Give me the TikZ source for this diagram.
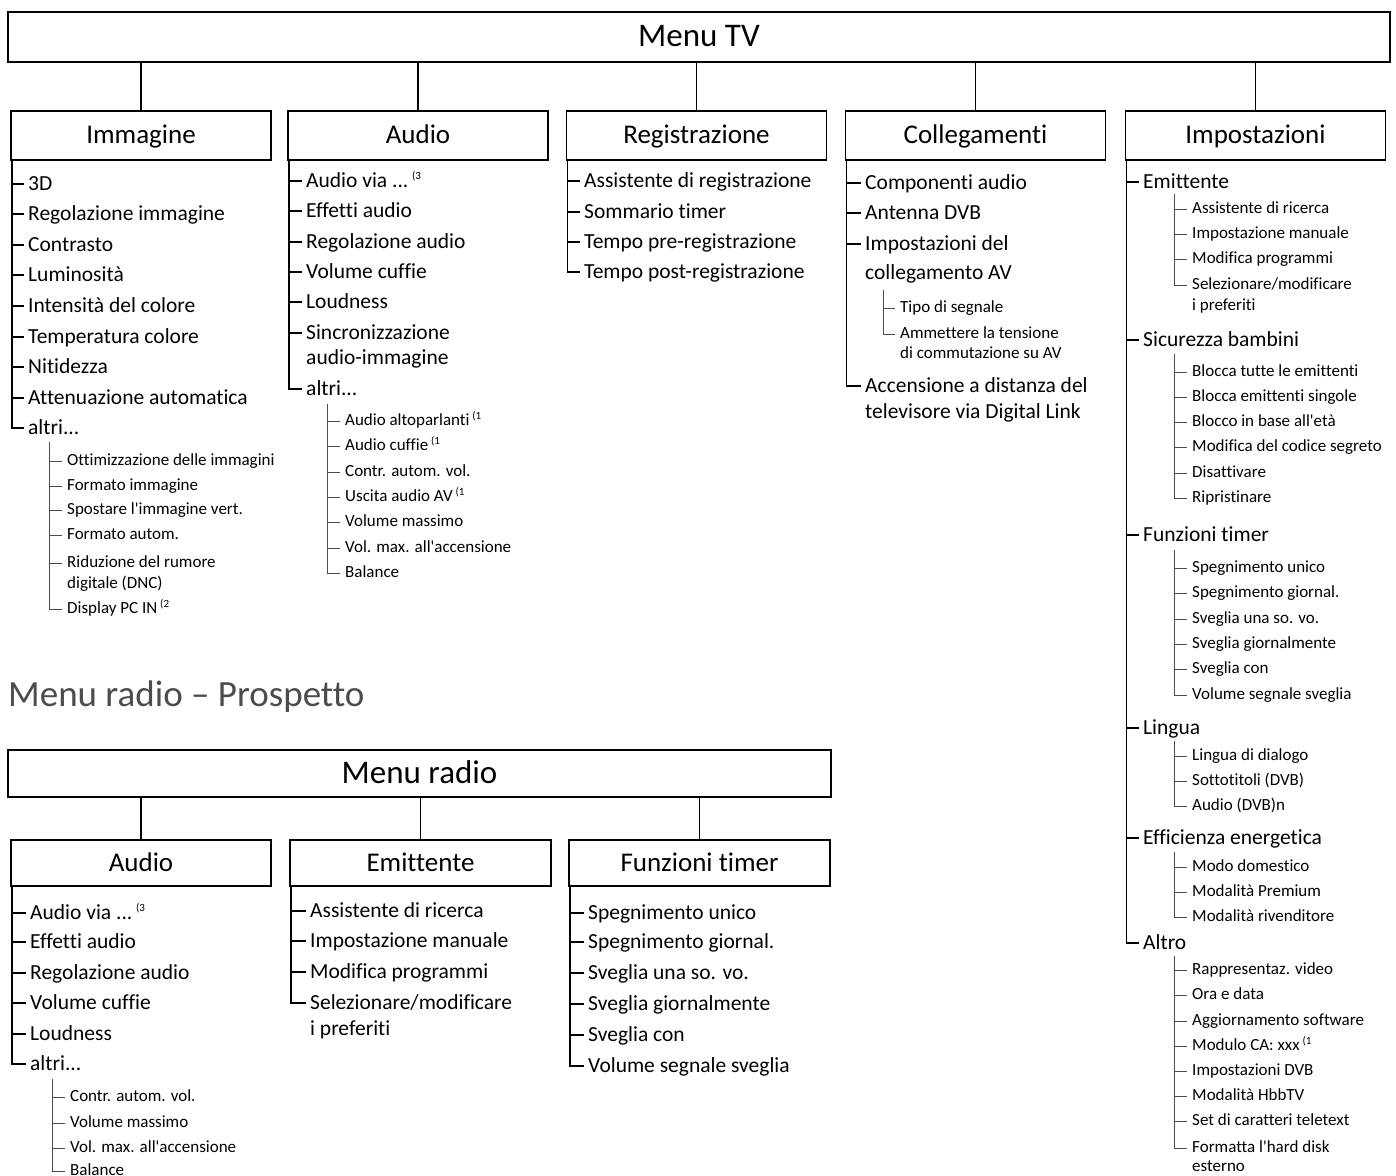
\documentclass[tikz,border=0pt]{standalone}
\usepackage{fontspec}
\setmainfont{Carlito}[Ligatures=NoCommon]
\newcommand\q{\textquotesingle}
\newcommand\tk[2]{\draw[trk] (#1 |- #2.west) -- ([xshift=-4pt]#2.west);}
\newcommand\lt[2]{\draw[trk] (#1) |- ([xshift=-4pt]#2.west);}
\newcommand\stk[2]{\draw[strk] (#1 |- #2.west) -- ([xshift=-5pt]#2.west);}
\newcommand\slt[2]{\draw[strk] (#1) |- ([xshift=-5pt]#2.west);}
\newcommand\fn[1]{\,\textsuperscript{\fontsize{11}{11}\selectfont(#1}}
\begin{document}
\begin{tikzpicture}[x=1pt,y=-1pt,
  mbox/.style={draw, line width=2pt, inner sep=0pt, text height=26pt, text depth=7pt, font=\fontsize{33}{36}\selectfont},
  cbox/.style={draw, line width=1.8pt, inner sep=0pt, minimum width=260pt, minimum height=49pt, text height=22pt, text depth=6pt, font=\fontsize{27}{30}\selectfont},
  itm/.style={anchor=west, inner sep=0pt, text height=12pt, text depth=0pt, font=\fontsize{21.5}{24}\selectfont},
  sit/.style={anchor=west, inner sep=0pt, text height=9pt, text depth=0pt, font=\fontsize{17}{20}\selectfont},
  trk/.style={line width=1.5pt},
  strk/.style={line width=1pt, draw=black!70},
  conn/.style={line width=1.8pt}]
\useasboundingbox (0,0) rectangle (1396,1175);
\fill[white] (0,0) rectangle (1396,1175);

% ===== Menu TV =====
\node[mbox, minimum width=1382pt, minimum height=50pt] (tv) at (699,37) {Menu TV};
\node[cbox] (bImm) at (141,135.5) {Immagine};
\node[cbox] (bAud) at (418,135.5) {Audio};
\node[cbox] (bReg) at (696.5,135.5) {Registrazione};
\node[cbox] (bCol) at (975.5,135.5) {Collegamenti};
\node[cbox] (bImp) at (1255.5,135.5) {Impostazioni};
\foreach \b in {bImm,bAud,bReg,bCol,bImp} \draw[conn] (tv.south -| \b.north) -- (\b.north);

% --- Immagine ---
\coordinate (tImm) at ([xshift=2pt]bImm.south west);
\node[itm] (im1) at (28,184) {3D};
\node[itm] (im2) at (28,214) {Regolazione immagine};
\node[itm] (im3) at (28,245) {Contrasto};
\node[itm] (im4) at (28,275) {Luminosità};
\node[itm] (im5) at (28,306) {Intensità del colore};
\node[itm] (im6) at (28,337) {Temperatura colore};
\node[itm] (im7) at (28,367) {Nitidezza};
\node[itm] (im8) at (28,398) {Attenuazione automatica};
\node[itm] (im9) at (28,428) {altri...};
\foreach \i in {1,...,8} {\tk{tImm}{im\i}}
\lt{tImm}{im9}
\coordinate (sImm) at (49,442);
\node[sit] (ims1) at (67,461) {Ottimizzazione delle immagini};
\node[sit] (ims2) at (67,486) {Formato immagine};
\node[sit] (ims3) at (67,510) {Spostare l\q immagine vert.};
\node[sit] (ims4) at (67,535) {Formato autom.};
\node[sit] (ims5) at (67,563) {Riduzione del rumore};
\node[sit] (ims5b) at (67,584) {digitale (DNC)};
\node[sit] (ims6) at (67,609) {Display PC IN\fn{2}};
\foreach \i in {1,...,5} {\stk{sImm}{ims\i}}
\slt{sImm}{ims6}

% --- Audio ---
\coordinate (tAud) at ([xshift=2pt]bAud.south west);
\node[itm] (au1) at (306,181) {Audio via ...\fn{3}};
\node[itm] (au2) at (306,211) {Effetti audio};
\node[itm] (au3) at (306,242) {Regolazione audio};
\node[itm] (au4) at (306,272) {Volume cuffie};
\node[itm] (au5) at (306,302) {Loudness};
\node[itm] (au6) at (306,333) {Sincronizzazione};
\node[itm] (au6b) at (306,358) {audio-immagine};
\node[itm] (au7) at (306,389) {altri...};
\foreach \i in {1,...,6} {\tk{tAud}{au\i}}
\lt{tAud}{au7}
\coordinate (sAud) at (327,404);
\node[sit] (aus1) at (345,421) {Audio altoparlanti\fn{1}};
\node[sit] (aus2) at (345,446) {Audio cuffie\fn{1}};
\node[sit] (aus3) at (345,472) {Contr. autom. vol.};
\node[sit] (aus4) at (345,497) {Uscita audio AV\fn{1}};
\node[sit] (aus5) at (345,522) {Volume massimo};
\node[sit] (aus6) at (345,548) {Vol. max. all\q accensione};
\node[sit] (aus7) at (345,573) {Balance};
\foreach \i in {1,...,6} {\stk{sAud}{aus\i}}
\slt{sAud}{aus7}

% --- Registrazione ---
\coordinate (tReg) at ([xshift=2pt]bReg.south west);
\node[itm] (re1) at (584,181) {Assistente di registrazione};
\node[itm] (re2) at (584,212) {Sommario timer};
\node[itm] (re3) at (584,242) {Tempo pre-registrazione};
\node[itm] (re4) at (584,272) {Tempo post-registrazione};
\foreach \i in {1,...,3} {\tk{tReg}{re\i}}
\lt{tReg}{re4}

% --- Collegamenti ---
\coordinate (tCol) at ([xshift=2pt]bCol.south west);
\node[itm] (co1) at (865,183) {Componenti audio};
\node[itm] (co2) at (865,213) {Antenna DVB};
\node[itm] (co3) at (865,244) {Impostazioni del};
\node[itm] (co3b) at (865,273) {collegamento AV};
\node[itm] (co4) at (865,386) {Accensione a distanza del};
\node[itm] (co4b) at (865,412) {televisore via Digital Link};
\foreach \i in {1,...,3} {\tk{tCol}{co\i}}
\lt{tCol}{co4}
\coordinate (sCol) at (883,290);
\node[sit] (cos1) at (900,308) {Tipo di segnale};
\node[sit] (cos2) at (900,334) {Ammettere la tensione};
\node[sit] (cos2b) at (900,354) {di commutazione su AV};
\stk{sCol}{cos1}
\slt{sCol}{cos2}

% --- Impostazioni ---
\coordinate (tImp) at ([xshift=2pt]bImp.south west);
\node[itm] (ip1) at (1143,182) {Emittente};
\node[itm] (ip2) at (1143,340) {Sicurezza bambini};
\node[itm] (ip3) at (1143,535) {Funzioni timer};
\node[itm] (ip4) at (1143,728) {Lingua};
\node[itm] (ip5) at (1143,838) {Efficienza energetica};
\node[itm] (ip6) at (1143,943) {Altro};
\foreach \i in {1,...,5} {\tk{tImp}{ip\i}}
\lt{tImp}{ip6}
% Emittente
\coordinate (sE) at (1174,194);
\node[sit] (e1) at (1192,209) {Assistente di ricerca};
\node[sit] (e2) at (1192,234) {Impostazione manuale};
\node[sit] (e3) at (1192,259) {Modifica programmi};
\node[sit] (e4) at (1192,285) {Selezionare/modificare};
\node[sit] (e4b) at (1192,306) {i preferiti};
\foreach \i in {1,2,3} {\stk{sE}{e\i}}
\slt{sE}{e4}
% Sicurezza
\coordinate (sS) at (1174,354);
\node[sit] (s1) at (1192,372) {Blocca tutte le emittenti};
\node[sit] (s2) at (1192,397) {Blocca emittenti singole};
\node[sit] (s3) at (1192,422) {Blocco in base all\q età};
\node[sit] (s4) at (1192,447) {Modifica del codice segreto};
\node[sit] (s5) at (1192,473) {Disattivare};
\node[sit] (s6) at (1192,498) {Ripristinare};
\foreach \i in {1,...,5} {\stk{sS}{s\i}}
\slt{sS}{s6}
% Funzioni timer
\coordinate (sF) at (1174,550);
\node[sit] (f1) at (1192,568) {Spegnimento unico};
\node[sit] (f2) at (1192,593) {Spegnimento giornal.};
\node[sit] (f3) at (1192,619) {Sveglia una so. vo.};
\node[sit] (f4) at (1192,644) {Sveglia giornalmente};
\node[sit] (f5) at (1192,669) {Sveglia con};
\node[sit] (f6) at (1192,695) {Volume segnale sveglia};
\foreach \i in {1,...,5} {\stk{sF}{f\i}}
\slt{sF}{f6}
% Lingua
\coordinate (sL) at (1174,741);
\node[sit] (l1) at (1192,756) {Lingua di dialogo};
\node[sit] (l2) at (1192,781) {Sottotitoli (DVB)};
\node[sit] (l3) at (1192,806) {Audio (DVB)n};
\foreach \i in {1,2} {\stk{sL}{l\i}}
\slt{sL}{l3}
% Efficienza
\coordinate (sEf) at (1174,852);
\node[sit] (ef1) at (1192,867) {Modo domestico};
\node[sit] (ef2) at (1192,892) {Modalità Premium};
\node[sit] (ef3) at (1192,917) {Modalità rivenditore};
\foreach \i in {1,2} {\stk{sEf}{ef\i}}
\slt{sEf}{ef3}
% Altro
\coordinate (sA) at (1174,956);
\node[sit] (a1) at (1192,970) {Rappresentaz. video};
\node[sit] (a2) at (1192,995) {Ora e data};
\node[sit] (a3) at (1192,1021) {Aggiornamento software};
\node[sit] (a4) at (1192,1046) {Modulo CA: xxx\fn{1}};
\node[sit] (a5) at (1192,1071) {Impostazioni DVB};
\node[sit] (a6) at (1192,1096) {Modalità HbbTV};
\node[sit] (a7) at (1192,1121) {Set di caratteri teletext};
\node[sit] (a8) at (1192,1148) {Formatta l\q hard disk};
\node[sit] (a8b) at (1192,1167) {esterno};
\foreach \i in {1,...,7} {\stk{sA}{a\i}}
\slt{sA}{a8}

% ===== Heading =====
\node[anchor=west, inner sep=0pt, text=black!70, font=\fontsize{37}{40}\selectfont] (head) at (8,697) {Menu radio – Prospetto};

% ===== Menu radio =====
\node[mbox, minimum width=823pt, minimum height=47pt] (rd) at (419.5,773.5) {Menu radio};
\node[cbox, minimum height=46pt] (rAud) at (141,863) {Audio};
\node[cbox, minimum height=46pt, minimum width=261pt] (rEm) at (420.5,863) {Emittente};
\node[cbox, minimum height=46pt, minimum width=261pt] (rFt) at (699.5,863) {Funzioni timer};
\foreach \b in {rAud,rEm,rFt} \draw[conn] (rd.south -| \b.north) -- (\b.north);

% radio Audio
\coordinate (tRA) at ([xshift=2pt]rAud.south west);
\node[itm] (ra1) at (30,913) {Audio via ...\fn{3}};
\node[itm] (ra2) at (30,942) {Effetti audio};
\node[itm] (ra3) at (30,973) {Regolazione audio};
\node[itm] (ra4) at (30,1003) {Volume cuffie};
\node[itm] (ra5) at (30,1034) {Loudness};
\node[itm] (ra6) at (30,1064) {altri...};
\foreach \i in {1,...,5} {\tk{tRA}{ra\i}}
\lt{tRA}{ra6}
\coordinate (sRA) at (52,1079);
\node[sit] (ras1) at (70,1097) {Contr. autom. vol.};
\node[sit] (ras2) at (70,1123) {Volume massimo};
\node[sit] (ras3) at (70,1148) {Vol. max. all\q accensione};
\node[sit] (ras4) at (70,1171) {Balance};
\foreach \i in {1,2,3} {\stk{sRA}{ras\i}}
\slt{sRA}{ras4}

% radio Emittente
\coordinate (tRE) at ([xshift=2pt]rEm.south west);
\node[itm] (rem1) at (310,911) {Assistente di ricerca};
\node[itm] (rem2) at (310,941) {Impostazione manuale};
\node[itm] (rem3) at (310,972) {Modifica programmi};
\node[itm] (rem4) at (310,1003) {Selezionare/modificare};
\node[itm] (rem4b) at (310,1029) {i preferiti};
\foreach \i in {1,2,3} {\tk{tRE}{rem\i}}
\lt{tRE}{rem4}

% radio Funzioni timer
\coordinate (tRF) at ([xshift=2pt]rFt.south west);
\node[itm] (rf1) at (588,913) {Spegnimento unico};
\node[itm] (rf2) at (588,942) {Spegnimento giornal.};
\node[itm] (rf3) at (588,973) {Sveglia una so. vo.};
\node[itm] (rf4) at (588,1004) {Sveglia giornalmente};
\node[itm] (rf5) at (588,1035) {Sveglia con};
\node[itm] (rf6) at (588,1066) {Volume segnale sveglia};
\foreach \i in {1,...,5} {\tk{tRF}{rf\i}}
\lt{tRF}{rf6}
\end{tikzpicture}
\end{document}
